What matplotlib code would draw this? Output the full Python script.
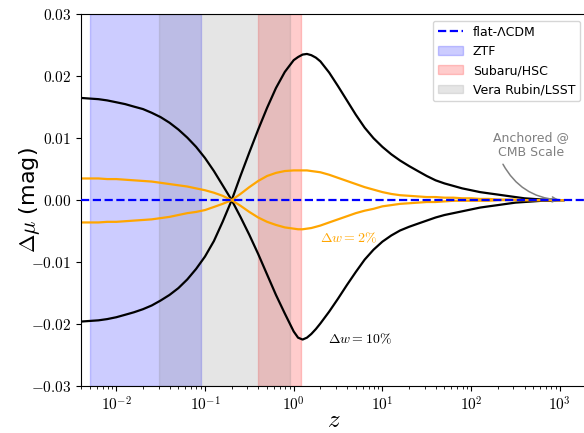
import numpy as np
import matplotlib
matplotlib.use('Agg')
import matplotlib.pyplot as plt
from matplotlib.ticker import FuncFormatter

plt.rcParams['mathtext.fontset'] = 'cm'
plt.rcParams['font.family'] = 'DejaVu Sans'

# redshift samples (values at these z)
z = [0.004, 0.005, 0.0063, 0.0079, 0.01, 0.0126, 0.0158, 0.02, 0.0251, 0.0316,
     0.0398, 0.0501, 0.0631, 0.0794, 0.1, 0.126, 0.158, 0.2, 0.251, 0.316,
     0.398, 0.501, 0.631, 0.794, 1.0, 1.12, 1.26, 1.41, 1.58, 1.78, 2.0, 2.51, 3.16,
     3.98, 5.01, 6.31, 7.94, 10, 12.6, 15.8, 20, 25.1, 31.6,
     39.8, 50.1, 63.1, 79.4, 100, 126, 158, 200, 251, 316,
     398, 501, 631, 794, 1000, 1100]

# dw = 10% (black)
dmu_10_a = [0.0165, 0.0164, 0.0163, 0.0161, 0.0158, 0.0155, 0.0151, 0.0147, 0.0141, 0.0134,
            0.0125, 0.0114, 0.0101, 0.0086, 0.0068, 0.0047, 0.0024, 0.0, -0.0027, -0.0056,
            -0.0087, -0.0120, -0.0153, -0.0183, -0.0212, -0.0222, -0.0225, -0.0222, -0.0216, -0.0208, -0.0199, -0.0180, -0.0159,
            -0.0137, -0.0116, -0.0096, -0.0080, -0.0067, -0.0057, -0.0049, -0.0043, -0.0038, -0.0033,
            -0.0028, -0.0024, -0.0021, -0.0018, -0.0015, -0.0012, -0.0010, -0.0008, -0.0006, -0.0004,
            -0.0003, -0.0002, -0.0001, -0.0001, 0.0, 0.0]
dmu_10_b = [-0.0196, -0.0195, -0.0194, -0.0192, -0.0189, -0.0185, -0.0181, -0.0176, -0.0170, -0.0162,
            -0.0153, -0.0142, -0.0128, -0.0111, -0.0091, -0.0066, -0.0035, 0.0, 0.0039, 0.0077,
            0.0114, 0.0149, 0.0181, 0.0207, 0.0226, 0.0231, 0.0235, 0.0236, 0.0234, 0.0230, 0.0224, 0.0206, 0.0184,
            0.0161, 0.0138, 0.0117, 0.0100, 0.0086, 0.0074, 0.0064, 0.0055, 0.0047, 0.0039,
            0.0032, 0.0027, 0.0023, 0.0019, 0.0016, 0.0013, 0.0011, 0.0009, 0.0007, 0.0005,
            0.0003, 0.0002, 0.0001, 0.0001, 0.0, 0.0]

# dw = 2% (orange)
dmu_2_a = [0.0035, 0.0035, 0.0035, 0.0034, 0.0034, 0.0033, 0.0032, 0.0031, 0.0030, 0.0028,
           0.0026, 0.0024, 0.0022, 0.0019, 0.0016, 0.0012, 0.0007, 0.0, -0.0009, -0.0019,
           -0.0028, -0.0035, -0.0040, -0.0044, -0.0046, -0.0047, -0.0047, -0.0046, -0.0045, -0.0043, -0.0041, -0.0036, -0.0031,
           -0.0026, -0.0021, -0.0017, -0.0014, -0.0010, -0.0008, -0.0006, -0.0005, -0.0004, -0.0003,
           -0.0003, -0.0002, -0.0001, -0.0001, -0.0001, -0.0001, -0.0001, 0.0, 0.0, 0.0,
           0.0, 0.0, 0.0, 0.0, 0.0, 0.0]
dmu_2_b = [-0.0036, -0.0036, -0.0036, -0.0035, -0.0035, -0.0034, -0.0033, -0.0032, -0.0031, -0.0029,
           -0.0027, -0.0024, -0.0021, -0.0019, -0.0016, -0.0011, -0.0006, 0.0, 0.0010, 0.0021,
           0.0031, 0.0039, 0.0044, 0.0047, 0.0048, 0.0048, 0.0048, 0.0048, 0.0047, 0.0046, 0.0045, 0.0041, 0.0036,
           0.0031, 0.0026, 0.0021, 0.0017, 0.0013, 0.0010, 0.0008, 0.0007, 0.0006, 0.0005,
           0.0005, 0.0004, 0.0004, 0.0003, 0.0003, 0.0002, 0.0002, 0.0001, 0.0001, 0.0001,
           0.0, 0.0, 0.0, 0.0, 0.0, 0.0]

# survey redshift ranges
ztf = (0.005, 0.09)
hsc = (0.4, 1.2)
lsst = (0.03, 0.9)

fig = plt.figure(figsize=(5.84, 4.33), dpi=100)
ax = fig.add_axes([81/584, 1-386/433, (586.5-81)/584, (386-14.3)/433])

ax.axvspan(*ztf, color='blue', alpha=0.2, label='ZTF')
ax.axvspan(*hsc, color='red', alpha=0.2, label='Subaru/HSC')
ax.axvspan(*lsst, color='gray', alpha=0.2, label='Vera Rubin/LSST')

ax.plot(z, dmu_10_a, color='black', lw=1.6)
ax.plot(z, dmu_10_b, color='black', lw=1.6)
ax.plot(z, dmu_2_a, color='orange', lw=1.6)
ax.plot(z, dmu_2_b, color='orange', lw=1.6)
ax.axhline(0, color='blue', ls='--', lw=1.6, label='flat-ΛCDM', zorder=5)

ax.text(1.97, -0.0062, r'$\Delta w = 2\%$', color='orange', fontsize=10, va='center')
ax.text(2.42, -0.0224, r'$\Delta w = 10\%$', color='black', fontsize=10, va='center')

ax.annotate('Anchored @\nCMB Scale', xy=(1050, 0), xytext=(470, 0.0089),
            color='gray', fontsize=9, ha='center', va='center',
            arrowprops=dict(arrowstyle='->', color='gray', lw=1.1,
                            connectionstyle='arc3,rad=0.3', relpos=(0.1, 0)))

ax.set_xscale('log')
ax.set_xlim(0.004, 2000)
ax.set_ylim(-0.03, 0.03)
ax.set_yticks([-0.03, -0.02, -0.01, 0.0, 0.01, 0.02, 0.03])
ax.yaxis.set_major_formatter(FuncFormatter(lambda v, p: r'$%.2f$' % v if abs(v) > 1e-9 else r'$0.00$'))
ax.xaxis.set_major_formatter(FuncFormatter(lambda v, p: r'$10^{%d}$' % round(np.log10(v))))
ax.tick_params(axis='both', labelsize=11)

ax.set_xlabel(r'$z$', fontsize=18)
ax.set_ylabel(r'$\Delta\mu$ (mag)', fontsize=16)
ax.xaxis.set_label_coords(0.5, -0.06)
ax.yaxis.set_label_coords(-0.078, 0.5)

h, l = ax.get_legend_handles_labels()
order = [l.index(n) for n in ['flat-ΛCDM', 'ZTF', 'Subaru/HSC', 'Vera Rubin/LSST']]
ax.legend([h[i] for i in order], [l[i] for i in order], loc='upper right', fontsize=9)

plt.savefig('out.png', dpi=100)
